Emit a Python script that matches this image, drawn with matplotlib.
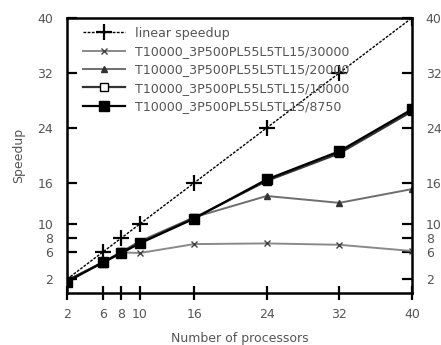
import matplotlib
matplotlib.use("Agg")
import matplotlib.pyplot as plt

procs = [2, 6, 8, 10, 16, 24, 32, 40]
linear = [2, 6, 8, 10, 16, 24, 32, 40]
s30000 = [1.8, 4.5, 5.9, 5.8, 7.1, 7.2, 7.0, 6.1]
s20000 = [1.8, 4.5, 6.0, 7.5, 11.0, 14.1, 13.1, 15.1]
s10000 = [1.8, 4.4, 5.9, 7.3, 10.9, 16.3, 20.3, 26.4]
s8750 = [1.6, 4.5, 5.8, 7.2, 10.8, 16.5, 20.6, 26.7]

labels = ["linear speedup",
          "T10000_3P500PL55L5TL15/30000",
          "T10000_3P500PL55L5TL15/20000",
          "T10000_3P500PL55L5TL15/10000",
          "T10000_3P500PL55L5TL15/8750"]

ticks = [2, 6, 8, 10, 16, 24, 32, 40]
txt = "#555555"

fig = plt.figure(figsize=(4.41, 3.45), dpi=100)
ax = fig.add_axes([0.152, 0.151, 0.782, 0.797])

ax.plot(procs, linear, color="black", lw=1.0, ls=(0, (2, 1)), marker="+", ms=12, mew=1.6, label=labels[0])
ax.plot(procs, s30000, color="#8a8a8a", lw=1.4, marker="x", ms=5, mew=1.0, mec="#444444", label=labels[1])
ax.plot(procs, s20000, color="#6e6e6e", lw=1.4, marker="^", ms=5, mfc="#333333", mec="#333333", label=labels[2])
ax.plot(procs, s10000, color="#333333", lw=1.6, marker="s", ms=6, mfc="white", mec="black", label=labels[3])
ax.plot(procs, s8750, color="black", lw=1.6, marker="s", ms=7, mfc="black", mec="black", label=labels[4])

ax.set_xlim(2, 40)
ax.set_ylim(0, 40)
ax.set_xticks(ticks)
ax.set_yticks(ticks)

for s in ax.spines.values():
    s.set_linewidth(1.8)

ax.tick_params(axis="x", direction="inout", length=10, width=1.6, pad=6, colors="black", labelcolor=txt, labelsize=9)
ax.tick_params(axis="y", direction="in", length=7, width=1.6, pad=10, left=True, right=True,
               labelleft=True, labelright=True, labelcolor=txt, labelsize=9)

ax.set_xlabel("Number of processors", color=txt, fontsize=9, labelpad=8)
ax.set_ylabel("Speedup", color=txt, fontsize=9, labelpad=9)

leg = ax.legend(loc="upper left", bbox_to_anchor=(0.046, 0.968), frameon=False, fontsize=9.1,
                handlelength=3.3, handletextpad=0.8, labelspacing=0.42,
                borderaxespad=0, borderpad=0)
for t in leg.get_texts():
    t.set_color(txt)

fig.savefig("out.png", dpi=100)
